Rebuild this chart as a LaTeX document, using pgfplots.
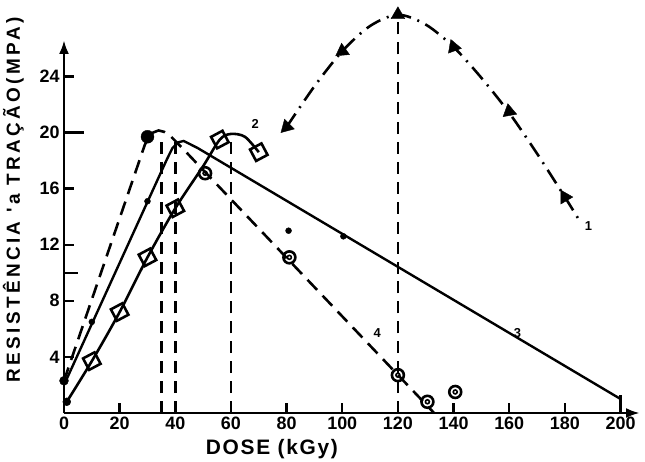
\documentclass[border=0pt]{standalone}
\usepackage{pgfplots}
\pgfplotsset{compat=1.18}
\usepackage{fontspec}
\setmainfont{Liberation Sans}
\newfontfamily\ylabfont[LetterSpace=18]{Liberation Sans}
\newfontfamily\xlabfont[LetterSpace=8]{Liberation Sans}
\usetikzlibrary{arrows.meta}
\begin{document}
\begin{tikzpicture}
\path[use as bounding box] (-64bp,-49bp) rectangle (581bp,413bp);
\begin{axis}[
  at={(0,0)}, anchor=south west,
  scale only axis, width=576bp, height=373bp,
  xmin=0, xmax=207, ymin=0, ymax=26.6,
  clip=false,
  axis x line=bottom, axis y line=left,
  axis line style={line width=2.8pt, -{Latex[length=14pt,width=10pt]}},
  xtick={0,20,...,200}, ytick={4,8,...,24},
  extra y ticks={10}, extra y tick labels={},
  extra y tick style={tick style={line width=2.4pt, black}, major tick length=14pt},
  tick align=inside, major tick length=10pt,
  tick style={line width=2.4pt, black},
  /pgf/number format/assume math mode=true,
  ticklabel style={font=\fontsize{18}{20}\selectfont\bfseries},
  xticklabel style={yshift=0pt},
  yticklabel style={xshift=-1pt},
  xlabel={DOSE (kGy)},
  xlabel style={at={(axis description cs:0.361,0)}, anchor=center, yshift=-36pt,
    font=\fontsize{21}{23}\selectfont\bfseries\xlabfont},
  ylabel={RESISTÊNCIA 'a TRAÇÃO(MPA)},
  ylabel style={at={(axis description cs:-0.088,0.571)}, anchor=center,
    font=\fontsize{19}{21}\selectfont\bfseries\ylabfont},
]
% vertical dashed guide lines
\addplot[black, line width=2.6pt, dash pattern=on 12pt off 8pt] coordinates {(35,0) (35,19.8)};
\addplot[black, line width=2.6pt, dash pattern=on 12pt off 8pt] coordinates {(40,0) (40,19.3)};
\addplot[black, line width=2.6pt, dash pattern=on 12pt off 8pt] coordinates {(60,0) (60,19.9)};
\addplot[black, line width=2.6pt, dash pattern=on 12pt off 8pt] coordinates {(120,0) (120,28.2)};

% curve 1 (dash-dot, triangles)
\addplot[black, line width=2.6pt, smooth, dash pattern=on 16pt off 7pt on 2pt off 7pt]
  coordinates {(80,20.4) (90,23.3) (100,25.8) (110,27.6) (120,28.4) (130,27.7) (140,26.1) (150,23.9) (160,21.4) (170,18.5) (180,15.4) (185,13.8)};
\addplot[only marks, mark=triangle*, mark size=8pt, mark options={rotate=135, fill=black}] coordinates {(80,20.4)};
\addplot[only marks, mark=triangle*, mark size=8pt, mark options={rotate=125, fill=black}] coordinates {(100,25.8)};
\addplot[only marks, mark=triangle*, mark size=8pt, mark options={rotate=0, fill=black}] coordinates {(120,28.4)};
\addplot[only marks, mark=triangle*, mark size=8pt, mark options={rotate=-100, fill=black}] coordinates {(140,26.1)};
\addplot[only marks, mark=triangle*, mark size=8pt, mark options={rotate=-110, fill=black}] coordinates {(160,21.5)};
\addplot[only marks, mark=triangle*, mark size=8pt, mark options={rotate=30, fill=black}] coordinates {(180,15.4)};

% curve 2 (solid, diamonds)
\addplot[black, line width=2.6pt, smooth]
  coordinates {(1,0.8) (10,3.7) (20,7.2) (30,11.1) (40,14.6) (50,17.6) (56,19.5) (60,19.9) (65,19.7) (70,18.6)};
\addplot[only marks, mark=square, mark size=6.5pt, mark options={rotate=28, line width=2.6pt, black}]
  coordinates {(10,3.7) (20,7.2) (30,11.1) (40,14.6) (56,19.5) (70,18.6)};
\addplot[only marks, mark=*, mark size=4pt, black] coordinates {(1,0.8)};

% curve 3 (solid, small dots)
\addplot[black, line width=2.4pt]
  coordinates {(0,2) (37,18.1) (39,18.9) (41,19.3) (43,19.4) (45,19.2) (48,18.9) (200,1)};
\addplot[only marks, mark=*, mark size=3pt, black]
  coordinates {(10,6.5) (30,15.1) (80.7,13.0) (100.4,12.6)};
\addplot[black, line width=2.4pt] coordinates {(200,0) (200,1.3)};

% curve 4 (dashed, circles)
\addplot[black, line width=2.6pt, dash pattern=on 14pt off 8pt]
  coordinates {(0,2.3) (29,19.1) (30.5,19.7) (32,20.0) (34,20.15) (36,20.05) (38,19.8) (40,19.4) (42,19.0) (133,0)};
\addplot[only marks, mark=*, mark size=6.5pt, black] coordinates {(30,19.7)};
\addplot[only marks, mark=*, mark size=4.5pt, black] coordinates {(0,2.3)};
\addplot[only marks, mark=o, mark size=6pt, mark options={line width=2.6pt, fill=white}, black]
  coordinates {(50.7,17.1) (81,11.1) (120,2.7) (130.6,0.8) (140.6,1.5)};
\addplot[only marks, mark=o, mark size=2pt, mark options={line width=1.6pt}, black]
  coordinates {(50.7,17.1) (81,11.1) (120,2.7) (130.6,0.8) (140.6,1.5)};

% long tick at 20
\draw[line width=2.4pt] (axis cs:0,20) -- ++(20bp,0);

% curve labels
\node[font=\fontsize{13}{14}\selectfont\bfseries] at (axis cs:188.5,13.3) {1};
\node[font=\fontsize{13}{14}\selectfont\bfseries] at (axis cs:68.7,20.6) {2};
\node[font=\fontsize{13}{14}\selectfont\bfseries] at (axis cs:163,5.7) {3};
\node[font=\fontsize{13}{14}\selectfont\bfseries] at (axis cs:112.6,5.7) {4};
\end{axis}
\end{tikzpicture}
\end{document}
